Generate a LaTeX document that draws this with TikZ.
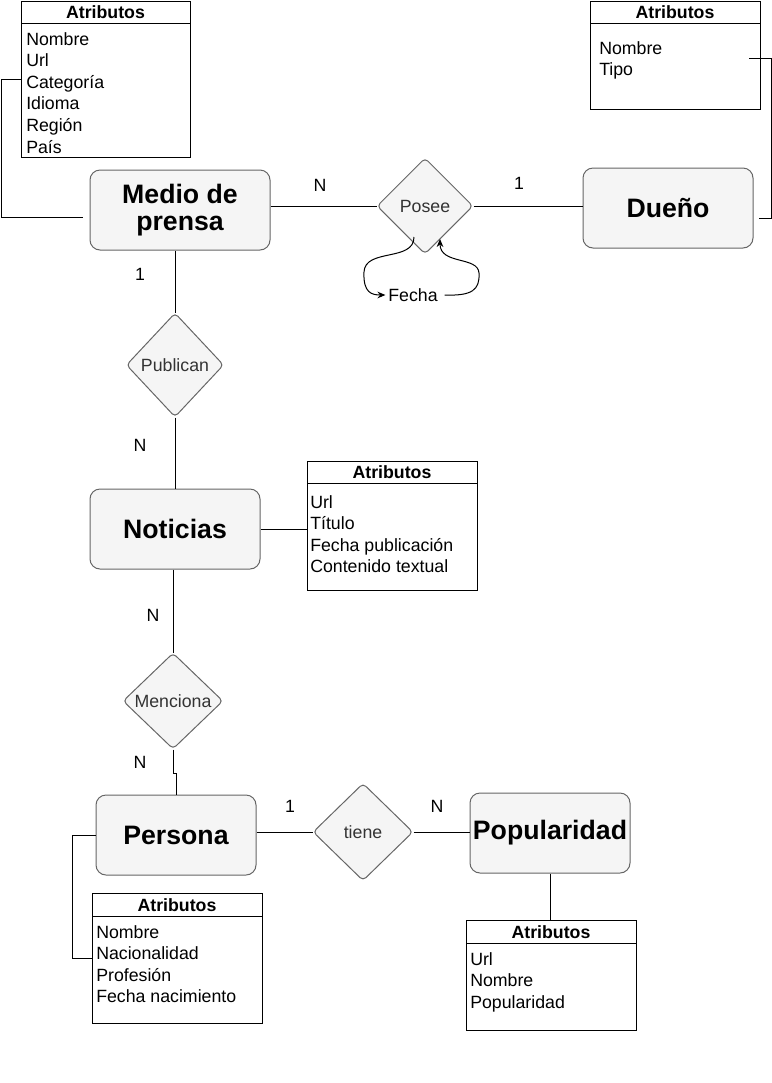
\documentclass[tikz,border=0pt]{standalone}
\usepackage{fontspec}
\setmainfont{Liberation Sans}
\usepackage{xcolor}
\definecolor{grisclaro}{HTML}{F5F5F5}
\definecolor{grisborde}{HTML}{666666}
\definecolor{gristexto}{HTML}{333333}
\usepackage{tikz}
\usetikzlibrary{shapes, arrows.meta, positioning}
\newcommand{\B}[1]{\textbf{#1}}
\tikzset{
  entidad/.style={draw=grisborde, fill=grisclaro, rounded corners=7.5pt, line width=0.75pt,
    align=center, inner sep=0pt, font=\fontsize{20}{20.5}\selectfont\bfseries},
  relacion/.style={diamond, draw=grisborde, fill=grisclaro, rounded corners=3pt, line width=0.75pt,
    text=gristexto, inner sep=0pt, font=\fontsize{13.3}{16}\selectfont},
  caja/.style={draw, line width=0.75pt, fill=white, inner sep=0pt, anchor=north west},
  titulo/.style={inner sep=0pt, font=\fontsize{13.3}{16}\selectfont\bfseries},
  lista/.style={align=left, anchor=north west, inner sep=0pt, font=\fontsize{13.3}{16.2}\selectfont},
  card/.style={inner sep=0pt, font=\fontsize{13.3}{16}\selectfont},
  linea/.style={line width=0.75pt},
  flecha/.style={line width=0.75pt, -{Stealth[length=6pt,width=5pt,inset=2pt]}}
}

\begin{document}
\begin{tikzpicture}[x=0.75pt, y=-0.75pt]
        \useasboundingbox (0,0) rectangle (772,1083);

        %######## Entidades #############
        \node[entidad, minimum width=135pt, minimum height=60pt] (medio) at (180,210) {Medio de\\prensa};
        \node[entidad, minimum width=127.5pt, minimum height=60pt] (dueno) at (668,208) {Dueño};
        \node[entidad, minimum width=127.5pt, minimum height=60pt] (noticias) at (175,529) {Noticias};
        \node[entidad, minimum width=120pt, minimum height=60pt] (persona) at (176,835) {Persona};
        \node[entidad, minimum width=120pt, minimum height=60pt] (popularidad) at (550,833) {Popularidad};

        %######## Relaciones #############
        \node[relacion, minimum width=72pt, minimum height=72pt] (posee) at (425,206) {Posee};
        \node[relacion, minimum width=73pt, minimum height=78pt] (publican) at (175,365) {Publican};
        \node[relacion, minimum width=75pt, minimum height=72pt] (menciona) at (173,701) {Menciona};
        \node[relacion, minimum width=75pt, minimum height=73pt] (tiene) at (363,832) {tiene};
        \node[card, inner xsep=2pt] (fecha) at (413,295) {Fecha};

        %######## Atributos #############
        % Medio de prensa
        \node[caja, minimum width=126.75pt, minimum height=117pt] (attrMedio) at (21,1) {};
        \draw[linea] (21,23) -- (190,23);
        \node[titulo] (titMedio) at (105.5,12) {Atributos};
        \node[lista] (listaMedio) at (26,32) {Nombre\\Url\\Categoría\\Idioma\\Región\\País};
        % Dueño
        \node[caja, minimum width=127.5pt, minimum height=81pt] (attrDueno) at (590,1) {};
        \draw[linea] (590,23) -- (760,23);
        \node[titulo] (titDueno) at (675,12) {Atributos};
        \node[lista] (listaDueno) at (599,41) {Nombre\\Tipo};
        % Noticias
        \node[caja, minimum width=127.5pt, minimum height=96.75pt] (attrNoticias) at (307,461) {};
        \draw[linea] (307,483) -- (477,483);
        \node[titulo] (titNoticias) at (392,472) {Atributos};
        \node[lista] (listaNoticias) at (310,495) {Url\\Título\\Fecha publicación\\Contenido textual};
        % Persona
        \node[caja, minimum width=127.5pt, minimum height=97.5pt] (attrPersona) at (92,893) {};
        \draw[linea] (92,916) -- (262,916);
        \node[titulo] (titPersona) at (177,905) {Atributos};
        \node[lista] (listaPersona) at (96,925) {Nombre\\Nacionalidad\\Profesión\\Fecha nacimiento};
        % Popularidad
        \node[caja, minimum width=127.5pt, minimum height=82.5pt] (attrPopularidad) at (466,920) {};
        \draw[linea] (466,943) -- (636,943);
        \node[titulo] (titPopularidad) at (551,932) {Atributos};
        \node[lista] (listaPopularidad) at (470,952) {Url\\Nombre\\Popularidad};

        %######## Conectores #############
        % Medio de prensa - Posee - Dueño
        \draw[linea] (medio.east |- posee.west) -- (posee.west);
        \draw[linea] (posee.east) -- (dueno.west |- posee.east);
        \node[card] (cardN1) at (320,185) {N};
        \node[card] (card11) at (519,183) {1};
        % Fecha
        \coordinate (poseeSal) at (414,237);
        \coordinate (poseeEnt) at (440,239);
        \draw[flecha] (poseeSal) .. controls (414,262) and (365,248) .. (364,272)
                      .. controls (363,293) and (372,295) .. (fecha.west);
        \draw[flecha] ([xshift=3pt]fecha.east) .. controls (472,296) and (480,290) .. (479,273)
                      .. controls (478,256) and (440,265) .. (poseeEnt);
        % Medio de prensa - Publican - Noticias
        \draw[linea] (medio.south -| publican) -- (publican.north);
        \draw[linea] (publican.south) -- (noticias.north -| publican);
        \node[card] (card12) at (140,274) {1};
        \node[card] (cardN2) at (140,445) {N};
        % Noticias - Menciona - Persona
        \draw[linea] (noticias.south -| menciona) -- (menciona.north);
        \coordinate (codoMenciona) at (173,773);
        \draw[linea] (menciona.south) -- (codoMenciona) -| (persona.north);
        \node[card] (cardN3) at (153,615) {N};
        \node[card] (cardN4) at (140,762) {N};
        % Persona - tiene - Popularidad
        \draw[linea] (tiene.west -| persona.east) -- (tiene.west);
        \draw[linea] (tiene.east) -- (popularidad.west |- tiene.east);
        \node[card] (card13) at (290,806) {1};
        \node[card] (cardN5) at (437,806) {N};

        % Entidades - Atributos
        \coordinate (codoMedio) at (1,79);
        \draw[linea] (attrMedio.west |- codoMedio) -- (codoMedio) |- ([xshift=-5.25pt,yshift=-5.25pt]medio.west);
        \coordinate (codoDueno) at (771,58);
        \draw[linea] ([xshift=-9pt]attrDueno.east |- codoDueno) -- (codoDueno) |- ([xshift=3.75pt,yshift=-7.5pt]dueno.east);
        \draw[linea] (noticias.east) -- (attrNoticias.west |- noticias.east);
        \coordinate (codoPersona) at (72,958);
        \draw[linea] (persona.west) -| (codoPersona) -- (attrPersona.west |- codoPersona);
        \draw[linea] (popularidad.south) -- (attrPopularidad.north -| popularidad.south);
\end{tikzpicture}
\end{document}
